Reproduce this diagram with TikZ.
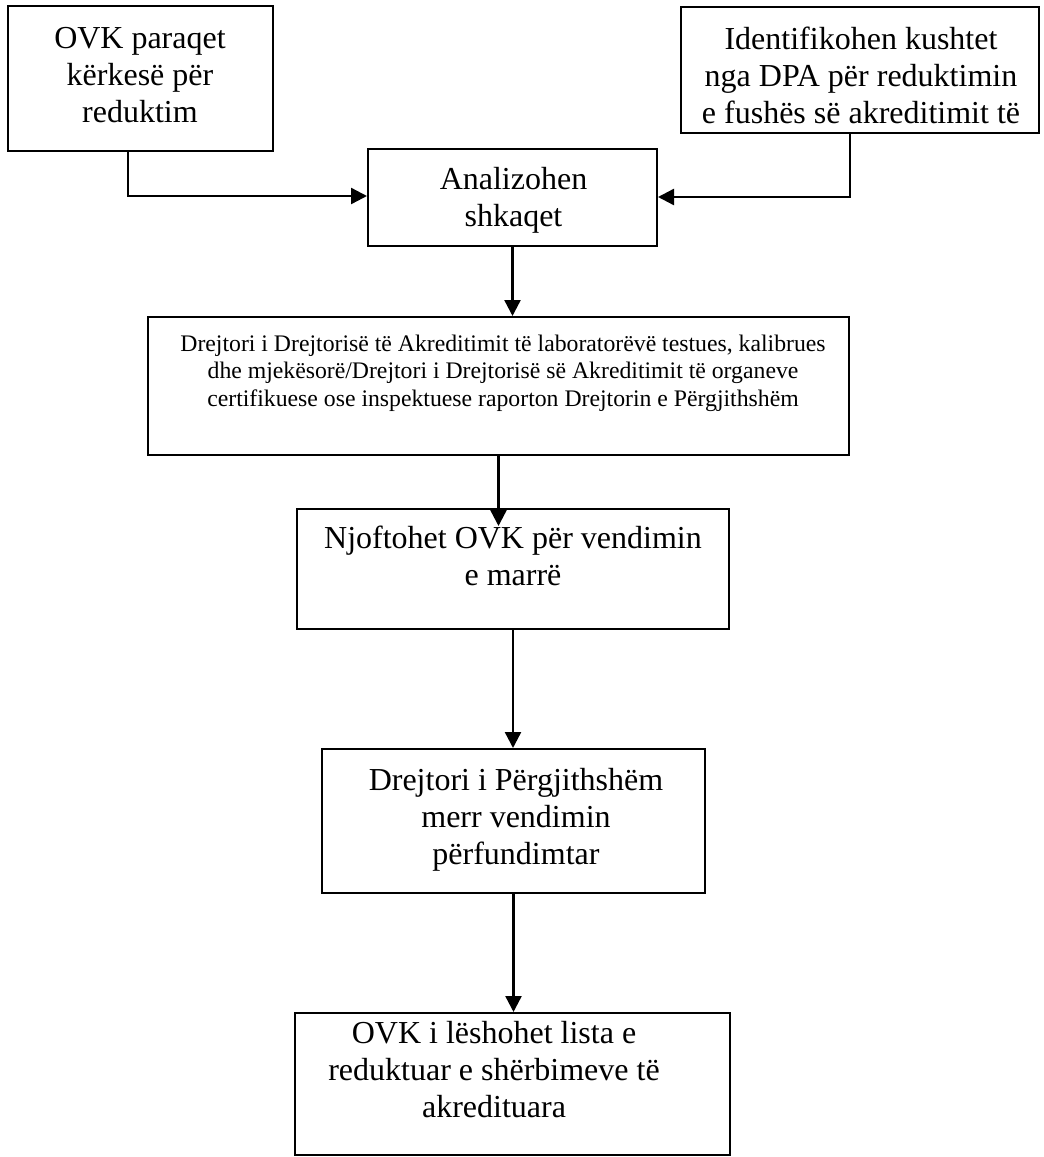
\documentclass[tikz,border=0pt]{standalone}
\usepackage{fontspec}
\setmainfont{Liberation Serif}
\usetikzlibrary{arrows.meta,fit}
\begin{document}
\begin{tikzpicture}[x=0.75pt,y=-0.75pt,
  box/.style={draw, line width=1.5pt, inner sep=0pt},
  bigtxt/.style={font=\fontsize{24pt}{27.75pt}\selectfont, text width=#1, align=flush center, inner sep=0pt, anchor=base},
  smalltxt/.style={font=\fontsize{17.8pt}{20.7pt}\selectfont, text width=#1, align=flush center, inner sep=0pt, anchor=base},
  conn/.style={line width=1.8pt, -{Triangle[length=12pt,width=12pt]}}]
\useasboundingbox (0,0) rectangle (1043,1157);
% boxes
\node[box, fit={(8,6)(273,151)}] (b1) {};
\node[box, fit={(681,7)(1039,133)}] (b2) {};
\node[box, fit={(368,149)(657,246)}] (an) {};
\node[box, fit={(148,317)(849,455)}] (dr) {};
\node[box, fit={(297,509)(729,629)}] (nj) {};
\node[box, fit={(322,749)(705,893)}] (dp) {};
\node[box, fit={(295,1013)(730,1155)}] (ov) {};
% texts
\node[bigtxt=250pt] (t1) at (140,48) {OVK paraqet\\kërkesë për\\reduktim};
\node[bigtxt=270pt] (t2) at (861,49) {Identifikohen kushtet\\nga DPA për reduktimin\\e fushës së akreditimit të};
\node[bigtxt=210pt] (t3) at (513.5,189) {Analizohen\\shkaqet};
\node[smalltxt=540pt] (t4) at (503,351) {Drejtori i Drejtorisë të Akreditimit të laboratorëvë testues, kalibrues\\dhe mjekësorë/Drejtori i Drejtorisë së Akreditimit të organeve\\certifikuese ose inspektuese raporton Drejtorin e Përgjithshëm};
\node[bigtxt=320pt] (t5) at (513,548) {Njoftohet OVK për vendimin\\e marrë};
\node[bigtxt=285pt] (t6) at (516,790) {Drejtori i Përgjithshëm\\merr vendimin\\përfundimtar};
\node[bigtxt=320pt] (t7) at (494,1043) {OVK i lëshohet lista e\\reduktuar e shërbimeve të\\akredituara};
% connectors
\coordinate (c1) at (128,196);
\coordinate (c2) at (850,197);
\draw[conn] (b1.south -| c1) -- (c1) -- (an.west |- c1);
\draw[conn] (b2.south -| c2) -- (c2) -- (an.east |- c2);
\draw[conn] (an.south) -- (an.south |- dr.north);
\draw[conn] (dr.south) -- ([yshift=-13.5pt]dr.south |- nj.north);
\draw[conn] (nj.south) -- (nj.south |- dp.north);
\draw[conn] (dp.south) -- (dp.south |- ov.north);
\end{tikzpicture}
\end{document}
